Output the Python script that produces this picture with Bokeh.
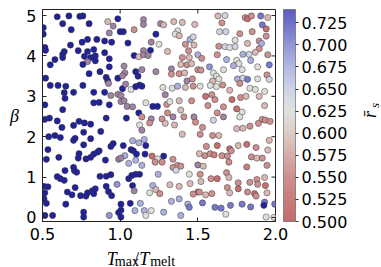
import numpy as np
from bokeh.plotting import figure
from bokeh.layouts import row, column
from bokeh.models import (LinearColorMapper, ColorBar, FixedTicker, PrintfTickFormatter,
                          Label, Range1d, ColumnDataSource)
from bokeh.embed import file_html
from bokeh.resources import INLINE

# ---- data ----
t_ratio = [
    0.595, 0.67, 0.74, 0.76, 0.63, 0.80, 0.92, 0.985, 0.505, 0.685, 0.955, 0.93, 0.505, 1.00, 0.755, 0.79,
    0.85, 0.90, 0.945, 0.68, 0.515, 0.52, 0.64, 0.63, 0.73, 0.79, 0.83, 0.90, 0.77, 0.81, 0.84, 0.58,
    0.63, 0.79, 0.84, 0.93, 0.55, 0.76, 0.93, 0.80, 0.87, 0.52, 0.91, 0.92, 0.985, 0.55, 0.60, 0.65,
    0.76, 0.925, 0.64, 0.645, 0.70, 0.83, 0.90, 0.94, 0.985, 0.515, 0.83, 0.865, 0.93, 0.63, 1.005,
    1.15, 1.15, 1.26, 1.28, 1.345, 1.40, 1.48, 1.02, 1.09, 1.23, 1.37, 1.355, 1.38, 1.45, 1.47, 1.05,
    1.20, 1.25, 1.42, 1.475, 1.15, 1.195, 1.09, 1.12, 1.15, 1.18, 1.305, 1.44, 1.40, 1.445, 1.50, 1.025,
    1.03, 1.14, 1.23, 1.33, 1.33, 1.39, 1.43, 1.46, 1.50, 1.38, 1.415, 1.43, 1.465, 1.10, 1.115, 1.015,
    1.015, 1.07, 1.10, 1.125, 1.14, 1.035, 1.275, 1.335, 1.37, 1.42, 1.47, 1.29, 1.005, 1.025, 1.045,
    1.08, 1.165, 1.21, 1.24, 1.30, 1.32, 1.38, 1.46, 1.305, 1.39, 1.12,
    1.63, 1.675, 1.805, 1.82, 1.845, 1.905, 1.95, 1.655, 1.915, 1.94, 1.64, 1.68, 1.77, 1.85, 1.94, 1.74,
    1.82, 1.895, 1.91, 1.635, 1.675, 1.705, 1.74, 1.895, 1.79, 1.83, 1.87, 1.95, 1.625, 1.525, 1.685,
    1.75, 1.84, 1.575, 1.60, 1.665, 1.73, 1.765, 1.785, 1.885, 1.96, 1.52, 1.62, 1.635, 1.595, 1.755,
    1.79, 1.82, 1.885, 1.945, 1.96, 1.58, 1.62, 1.66, 1.705, 1.77, 1.835, 1.87, 1.93, 1.55, 1.59, 1.72,
    1.775, 1.81, 1.895, 1.61, 1.515, 1.565, 1.665, 1.75, 1.93, 1.625, 1.785,
    0.515, 0.545, 0.595, 0.625, 0.70, 0.735, 0.77, 0.81, 0.91, 0.54, 0.58, 0.615, 0.70, 0.71, 0.765,
    0.81, 0.875, 0.535, 0.765, 0.94, 0.955, 0.605, 0.735, 0.73, 0.78, 0.81, 0.83, 0.855, 0.865, 0.905,
    0.99, 0.525, 0.70, 0.705, 0.72, 0.645, 0.595, 0.615, 0.64, 0.87, 0.91, 0.94, 0.51, 0.535, 0.515,
    0.66, 0.69, 0.71, 0.745, 0.78, 0.79, 0.82, 0.83, 0.84, 0.91, 0.925, 0.98, 0.525, 0.65, 0.945, 0.515,
    0.565, 0.765, 0.765, 0.93, 0.99, 0.51,
    1.04, 1.14, 1.20, 1.27, 1.34, 1.41, 1.475, 1.125, 1.19, 1.29, 1.35, 1.485, 1.14, 1.40, 1.02, 1.08,
    1.12, 1.155, 1.165, 1.07, 1.085, 1.03, 1.105, 1.16, 1.005, 1.055, 1.10, 1.14, 1.205, 1.24, 1.28,
    1.225, 1.27, 1.34, 1.34, 1.37, 1.39, 1.36, 1.445, 1.50, 1.075, 1.10, 1.125, 1.055, 1.245, 1.08,
    1.09, 1.21, 1.23, 1.255, 1.19, 1.32, 1.38, 1.45, 1.50, 1.47, 1.005, 1.005, 1.065, 1.095, 1.13,
    1.155, 1.165, 1.20, 1.28, 1.33, 1.38, 1.39, 1.435, 1.445, 1.005,
    1.60, 1.665, 1.77, 1.915, 1.935, 1.53, 1.75, 1.79, 1.835, 1.89, 1.965, 1.515, 1.595, 1.635, 1.96,
    1.555, 1.625, 1.705, 1.76, 1.815, 1.875, 1.95, 1.51, 1.545, 1.58, 1.605, 1.655, 1.69, 1.715, 1.845,
    1.88, 1.915, 1.535, 1.70, 1.815, 1.945, 1.585, 1.625, 1.685, 1.70, 1.76, 1.835, 1.88, 1.885, 1.93,
    1.935, 1.515, 1.52, 1.51, 1.55, 1.59, 1.69, 1.705, 1.76, 1.82, 1.865, 1.875, 1.945, 1.53, 1.61,
    1.65, 1.71, 1.68, 1.785, 1.84, 1.93, 1.925, 1.995, 1.94, 1.99,
]
beta = [
    4.97, 4.99, 4.98, 4.99, 4.80, 4.80, 4.85, 4.92, 4.70, 4.65, 4.74, 4.57, 4.54, 4.60, 4.34, 4.41,
    4.41, 4.37, 4.34, 4.27, 4.21, 4.14, 4.11, 4.04, 4.13, 4.11, 4.16, 4.08, 3.99, 3.96, 4.00, 3.91,
    3.96, 3.86, 3.88, 3.93, 3.78, 3.79, 3.73, 3.56, 3.61, 3.45, 3.47, 3.38, 3.45, 3.27, 3.27, 3.25,
    3.27, 3.32, 3.09, 2.95, 3.10, 3.10, 3.10, 3.02, 3.05, 2.79, 2.84, 2.85, 2.79, 2.67, 2.87,
    4.90, 4.78, 4.80, 4.77, 4.85, 4.83, 4.78, 4.60, 4.65, 4.54, 4.62, 4.54, 4.50, 4.41, 4.47, 4.32,
    4.34, 4.29, 4.29, 4.27, 4.13, 4.14, 4.01, 3.98, 4.03, 4.01, 4.11, 4.13, 3.96, 3.96, 4.03, 3.75,
    3.58, 3.66, 3.61, 3.68, 3.55, 3.79, 3.78, 3.81, 3.66, 3.56, 3.58, 3.38, 3.43, 3.61, 3.50, 3.51,
    3.19, 3.17, 3.24, 3.28, 3.25, 3.30, 3.22, 3.20, 3.25, 3.22, 3.25, 3.04, 3.02, 2.89, 2.75,
    2.74, 2.84, 2.75, 2.75, 2.80, 2.87, 2.89, 2.89, 2.59, 2.66, 2.59,
    4.99, 5.00, 4.95, 4.92, 4.99, 4.99, 4.95, 4.82, 4.77, 4.67, 4.60, 4.60, 4.55, 4.60, 4.49, 4.39,
    4.31, 4.37, 4.31, 4.24, 4.23, 4.21, 4.23, 4.18, 4.04, 4.04, 4.09, 4.03, 4.03, 3.94, 3.91,
    3.89, 3.89, 3.73, 3.58, 3.66, 3.76, 3.81, 3.66, 3.73, 3.78, 3.65, 3.50, 3.43, 3.38, 3.43,
    3.45, 3.42, 3.43, 3.53, 3.42, 3.27, 3.24, 3.28, 3.15, 3.32, 3.20, 3.17, 3.12, 3.00, 3.04, 2.92,
    2.97, 3.00, 3.00, 2.92, 3.25, 2.77, 2.74, 2.69, 2.77, 2.59, 2.61,
    2.43, 2.46, 2.39, 2.23, 2.28, 2.38, 2.34, 2.31, 2.46, 2.00, 2.03, 1.98, 1.91, 1.96, 2.11,
    1.95, 2.13, 1.68, 1.80, 1.76, 1.83, 1.49, 1.58, 1.47, 1.45, 1.49, 1.57, 1.62, 1.65, 1.42,
    1.44, 1.44, 1.24, 1.16, 1.12, 1.16, 1.01, 0.96, 0.92, 1.02, 1.02, 1.06, 0.77, 0.76, 0.61,
    0.63, 0.56, 0.74, 0.54, 0.53, 0.61, 0.66, 0.59, 0.71, 0.77, 0.64, 0.82, 0.35, 0.33, 0.54, 0.05,
    0.05, 0.13, 0.01, 0.05, 0.12, 0.46,
    2.46, 2.49, 2.44, 2.44, 2.49, 2.49, 2.49, 2.29, 2.34, 2.33, 2.29, 2.36, 2.16, 2.06, 1.78, 1.90,
    1.85, 1.93, 1.78, 1.68, 1.65, 1.53, 1.57, 1.57, 1.47, 1.34, 1.42, 1.29, 1.52, 1.45, 1.52,
    1.37, 1.37, 1.44, 1.24, 1.29, 1.27, 1.17, 1.07, 1.30, 1.04, 1.07, 1.07, 0.96, 1.07, 0.79,
    0.66, 0.79, 0.69, 0.59, 0.61, 0.81, 0.77, 0.84, 0.63, 0.58, 0.33, 0.18, 0.35, 0.17, 0.35,
    0.17, 0.05, 0.17, 0.13, 0.40, 0.46, 0.05, 0.33, 0.25, 0.01,
    2.41, 2.49, 2.49, 2.43, 2.41, 2.23, 2.20, 2.21, 2.26, 2.33, 2.38, 2.06, 2.03, 2.03, 1.91,
    1.76, 1.78, 1.70, 1.78, 1.81, 1.73, 1.67, 1.58, 1.53, 1.58, 1.55, 1.53, 1.52, 1.65, 1.50,
    1.47, 1.47, 1.27, 1.37, 1.25, 1.29, 0.96, 0.96, 1.11, 0.99, 0.86, 0.87, 0.94, 0.82, 0.99,
    0.79, 1.07, 0.89, 0.63, 0.56, 0.59, 0.74, 0.61, 0.71, 0.63, 0.59, 0.53, 0.61, 0.36, 0.25,
    0.23, 0.30, 0.08, 0.33, 0.26, 0.38, 0.30, 0.33, 0.01, 0.00,
]
rbar_s = [
    0.78, 0.78, 0.78, 0.78, 0.78, 0.78, 0.585, 0.78, 0.78, 0.78, 0.46, 0.46, 0.78, 0.78, 0.78, 0.78,
    0.78, 0.78, 0.78, 0.78, 0.78, 0.78, 0.78, 0.78, 0.78, 0.78, 0.78, 0.78, 0.78, 0.78, 0.78, 0.78,
    0.78, 0.46, 0.78, 0.78, 0.78, 0.78, 0.78, 0.78, 0.78, 0.78, 0.78, 0.78, 0.78, 0.78, 0.78, 0.78,
    0.78, 0.46, 0.78, 0.78, 0.78, 0.78, 0.78, 0.46, 0.46, 0.78, 0.78, 0.78, 0.78, 0.78, 0.46,
    0.46, 0.46, 0.46, 0.585, 0.585, 0.585, 0.585, 0.78, 0.55, 0.78, 0.62, 0.62, 0.585, 0.68, 0.65, 0.78,
    0.46, 0.62, 0.55, 0.585, 0.46, 0.78, 0.78, 0.585, 0.46, 0.46, 0.585, 0.55, 0.55, 0.585, 0.68, 0.46,
    0.46, 0.46, 0.46, 0.46, 0.55, 0.585, 0.55, 0.585, 0.55, 0.55, 0.585, 0.46, 0.55, 0.78, 0.78, 0.46,
    0.78, 0.62, 0.78, 0.78, 0.78, 0.46, 0.62, 0.62, 0.68, 0.585, 0.55, 0.46, 0.46, 0.46, 0.46,
    0.46, 0.62, 0.78, 0.78, 0.55, 0.62, 0.585, 0.55, 0.55, 0.585, 0.78,
    0.585, 0.65, 0.55, 0.51, 0.55, 0.72, 0.585, 0.55, 0.72, 0.51, 0.65, 0.65, 0.55, 0.55, 0.55, 0.62,
    0.585, 0.55, 0.68, 0.55, 0.65, 0.62, 0.65, 0.55, 0.68, 0.65, 0.585, 0.55, 0.55, 0.55, 0.68,
    0.62, 0.68, 0.70, 0.62, 0.62, 0.68, 0.62, 0.62, 0.62, 0.72, 0.55, 0.62, 0.62, 0.585, 0.68,
    0.65, 0.72, 0.62, 0.55, 0.65, 0.62, 0.62, 0.55, 0.585, 0.55, 0.62, 0.62, 0.62, 0.51, 0.55, 0.51,
    0.55, 0.585, 0.585, 0.55, 0.62, 0.55, 0.55, 0.51, 0.585, 0.55, 0.62,
    0.78, 0.78, 0.78, 0.78, 0.78, 0.78, 0.78, 0.78, 0.78, 0.78, 0.78, 0.78, 0.78, 0.78, 0.78,
    0.78, 0.78, 0.78, 0.78, 0.78, 0.78, 0.78, 0.78, 0.78, 0.78, 0.78, 0.78, 0.78, 0.78, 0.78,
    0.46, 0.78, 0.78, 0.78, 0.78, 0.78, 0.78, 0.78, 0.78, 0.78, 0.78, 0.78, 0.78, 0.78, 0.78,
    0.78, 0.78, 0.78, 0.78, 0.78, 0.78, 0.78, 0.78, 0.78, 0.78, 0.78, 0.70, 0.78, 0.78, 0.78, 0.78,
    0.78, 0.78, 0.78, 0.70, 0.78, 0.78,
    0.78, 0.55, 0.46, 0.55, 0.46, 0.55, 0.46, 0.62, 0.55, 0.585, 0.585, 0.55, 0.46, 0.585, 0.78, 0.68,
    0.68, 0.68, 0.78, 0.78, 0.78, 0.68, 0.78, 0.78, 0.46, 0.68, 0.68, 0.68, 0.51, 0.62, 0.78,
    0.55, 0.55, 0.55, 0.55, 0.55, 0.55, 0.65, 0.62, 0.46, 0.78, 0.78, 0.78, 0.78, 0.68, 0.78,
    0.46, 0.68, 0.585, 0.55, 0.62, 0.585, 0.585, 0.585, 0.46, 0.55, 0.78, 0.78, 0.78, 0.68, 0.68,
    0.68, 0.62, 0.62, 0.68, 0.68, 0.68, 0.68, 0.68, 0.72, 0.78,
    0.65, 0.46, 0.62, 0.55, 0.55, 0.55, 0.585, 0.585, 0.55, 0.55, 0.55, 0.55, 0.55, 0.585, 0.585,
    0.55, 0.51, 0.51, 0.585, 0.51, 0.55, 0.585, 0.585, 0.55, 0.55, 0.53, 0.55, 0.55, 0.55, 0.55,
    0.585, 0.55, 0.585, 0.55, 0.53, 0.55, 0.55, 0.51, 0.55, 0.585, 0.55, 0.55, 0.55, 0.55, 0.585,
    0.51, 0.55, 0.585, 0.55, 0.585, 0.55, 0.55, 0.585, 0.51, 0.55, 0.51, 0.55, 0.585, 0.72, 0.72,
    0.72, 0.72, 0.62, 0.72, 0.72, 0.72, 0.78, 0.72, 0.62, 0.62,
]

x_ticks = [0.5, 1.0, 1.5, 2.0]
y_ticks = [0, 1, 2, 3, 4, 5]
cbar_ticks = [0.5, 0.525, 0.55, 0.575, 0.6, 0.625, 0.65, 0.675, 0.7, 0.725]
c_low, c_high = 0.5, 0.74
x_lo, x_hi = 0.5, 2.0
y_lo, y_hi = -0.1, 5.15

# ---- colour map (muted red - grey - blue) ----
anchors_v = [0.500, 0.550, 0.575, 0.600, 0.625, 0.650, 0.675, 0.700, 0.725, 0.740]
anchors_c = ["#c46a6a", "#cd908e", "#d5aeaa", "#dccbc6", "#dfe2de", "#cfd5e6",
             "#b2b8e2", "#9297d6", "#6f71ca", "#5e5ec2"]
def hex2rgb(h):
    return np.array([int(h[i:i + 2], 16) for i in (1, 3, 5)], dtype=float)
rgbs = np.array([hex2rgb(h) for h in anchors_c])
palette = []
for g in np.linspace(c_low, c_high, 256):
    cc = [int(round(np.interp(g, anchors_v, rgbs[:, k]))) for k in range(3)]
    palette.append("#%02x%02x%02x" % tuple(cc))

mapper = LinearColorMapper(palette=palette, low=c_low, high=c_high,
                           low_color="#9f85a3", high_color="#222299")

src = ColumnDataSource(dict(x=t_ratio, y=beta, r=rbar_s))

# page layout: [y-title 22px] [main plot 330px] [colour-bar title 29px]; main plot 247px tall + 20px x-title
YW, PW, PH = 22, 330, 247
CW = 381 - YW - PW
XH = 267 - PH
FW, FH = 233, 212

p = figure(width=PW, height=PH, x_range=Range1d(x_lo, x_hi), y_range=Range1d(y_lo, y_hi),
           output_backend="svg", toolbar_location=None,
           min_border_left=20, min_border_top=9, min_border_bottom=PH - 9 - FH,
           min_border_right=PW - 20 - FW)
p.background_fill_color = "white"
p.border_fill_color = "white"
p.outline_line_color = "#222222"
p.outline_line_width = 1
p.grid.visible = False

p.scatter("x", "y", source=src, size=6.2, fill_color={"field": "r", "transform": mapper},
          line_color="#333333", line_width=0.6, line_alpha=0.8)

# inward ticks mirrored on the top and right edges
tick_px = 4
dy = tick_px * (y_hi - y_lo) / FH
dx = tick_px * (x_hi - x_lo) / FW
p.segment(x0=x_ticks, y0=[y_hi] * len(x_ticks), x1=x_ticks, y1=[y_hi - dy] * len(x_ticks),
          line_color="#222222", line_width=1)
p.segment(x0=[x_hi] * len(y_ticks), y0=y_ticks, x1=[x_hi - dx] * len(y_ticks), y1=y_ticks,
          line_color="#222222", line_width=1)

for ax in (p.xaxis[0], p.yaxis[0]):
    ax.major_tick_in = tick_px
    ax.major_tick_out = 0
    ax.minor_tick_in = 0
    ax.minor_tick_out = 0
    ax.axis_line_color = "#222222"
    ax.major_tick_line_color = "#222222"
    ax.major_label_text_font = "DejaVu Sans"
    ax.major_label_text_font_size = "16px"
    ax.major_label_text_color = "black"
p.xaxis.ticker = FixedTicker(ticks=x_ticks)
p.xaxis.formatter = PrintfTickFormatter(format="%.1f")
p.xaxis.major_label_standoff = 6
p.yaxis.ticker = FixedTicker(ticks=y_ticks)
p.yaxis.major_label_standoff = 6

cb = ColorBar(color_mapper=mapper, ticker=FixedTicker(ticks=cbar_ticks),
              formatter=PrintfTickFormatter(format="%.3f"), width=12, height=FH,
              location=(8, 0), margin=0, padding=0,
              major_tick_in=0, major_tick_out=3, major_tick_line_color="#333333",
              minor_tick_in=0, minor_tick_out=0,
              bar_line_color="#555555", bar_line_width=0.6, label_standoff=3,
              major_label_text_font="DejaVu Sans", major_label_text_font_size="16px",
              major_label_text_color="black", border_line_color=None,
              background_fill_color=None)
p.add_layout(cb, "right")

# ---- small figures holding the axis titles (outside the main frame) ----
serif = "Liberation Serif"
def text_fig(w, h):
    f = figure(width=w, height=h, x_range=Range1d(0, w), y_range=Range1d(0, h),
               output_backend="svg", toolbar_location=None, min_border=0,
               x_axis_type=None, y_axis_type=None)
    f.grid.visible = False
    f.outline_line_color = None
    f.background_fill_color = "white"
    f.border_fill_color = "white"
    return f

def lab(f, x, y, t, size, style="normal", angle=0, align="left", base="alphabetic"):
    f.add_layout(Label(x=x, y=y, text=t, text_font=serif, text_font_size=size,
                       text_font_style=style, angle=angle, text_align=align,
                       text_baseline=base, text_color="black"))

xlab = text_fig(PW, XH)
lab(xlab, 91, 9, "T", "18px", "italic")
lab(xlab, 102.5, 6.5, "max", "14px")
lab(xlab, 129.5, 9, "/", "18px")
lab(xlab, 137, 9, "T", "18px", "italic")
lab(xlab, 152.5, 6.5, "melt", "14px")

ylab = text_fig(YW, 267)
lab(ylab, 14, 152, "β", "18px", "italic", align="center", base="middle")

clab = text_fig(CW, 267)
lab(clab, 17, 153, "r\u0304", "18px", "italic", angle=np.pi / 2, align="center", base="middle")
lab(clab, 22, 162, "s", "13px", "italic", angle=np.pi / 2, align="center", base="middle")

layout = row(ylab, column(p, xlab), clab)
open("out.html", "w").write(file_html(layout, INLINE))
